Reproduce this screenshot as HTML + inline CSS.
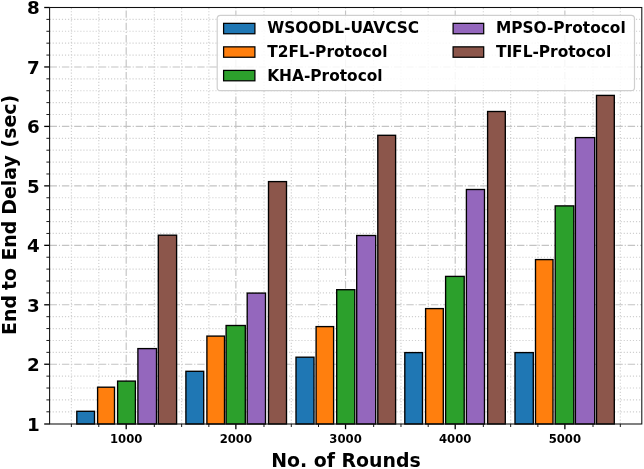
<!DOCTYPE html>
<html lang="en">
<head>
<meta charset="utf-8">
<title>End to End Delay vs No. of Rounds</title>
<style>
html,body{margin:0;padding:0;background:#fff;}
body{width:644px;height:469px;overflow:hidden;}
svg{display:block;will-change:transform;}
text{font-family:"DejaVu Sans","Liberation Sans",sans-serif;font-weight:bold;fill:#000;}
</style>
</head>
<body>
<svg width="644" height="469" viewBox="0 0 644 469">
<rect x="0" y="0" width="644" height="469" fill="#ffffff"/>
<g id="grid-minor" fill="none" stroke="#d0d0d0" stroke-width="1.16" stroke-dasharray="1.16 1.91">
<path d="M71.37 423.70V7.50"/>
<path d="M98.78 423.70V7.50"/>
<path d="M154.32 423.70V7.50"/>
<path d="M181.63 423.70V7.50"/>
<path d="M208.85 423.70V7.50"/>
<path d="M263.99 423.70V7.50"/>
<path d="M291.31 423.70V7.50"/>
<path d="M318.52 423.70V7.50"/>
<path d="M373.66 423.70V7.50"/>
<path d="M400.98 423.70V7.50"/>
<path d="M428.19 423.70V7.50"/>
<path d="M483.33 423.70V7.50"/>
<path d="M510.65 423.70V7.50"/>
<path d="M537.86 423.70V7.50"/>
<path d="M593.00 423.70V7.50"/>
<path d="M620.32 423.70V7.50"/>
<path d="M49.60 411.81H641.80"/>
<path d="M49.60 399.92H641.80"/>
<path d="M49.60 388.03H641.80"/>
<path d="M49.60 376.13H641.80"/>
<path d="M49.60 352.35H641.80"/>
<path d="M49.60 340.46H641.80"/>
<path d="M49.60 328.57H641.80"/>
<path d="M49.60 316.68H641.80"/>
<path d="M49.60 292.89H641.80"/>
<path d="M49.60 281.00H641.80"/>
<path d="M49.60 269.11H641.80"/>
<path d="M49.60 257.22H641.80"/>
<path d="M49.60 233.44H641.80"/>
<path d="M49.60 221.55H641.80"/>
<path d="M49.60 209.65H641.80"/>
<path d="M49.60 197.76H641.80"/>
<path d="M49.60 173.98H641.80"/>
<path d="M49.60 162.09H641.80"/>
<path d="M49.60 150.20H641.80"/>
<path d="M49.60 138.31H641.80"/>
<path d="M49.60 114.52H641.80"/>
<path d="M49.60 102.63H641.80"/>
<path d="M49.60 90.74H641.80"/>
<path d="M49.60 78.85H641.80"/>
<path d="M49.60 55.07H641.80"/>
<path d="M49.60 43.17H641.80"/>
<path d="M49.60 31.28H641.80"/>
<path d="M49.60 19.39H641.80"/>
</g>
<g id="grid-major" fill="none" stroke="#c4c4c4" stroke-width="1.16" stroke-dasharray="7.42 1.86 1.16 1.86">
<path d="M126.20 423.70V7.50"/>
<path d="M235.87 423.70V7.50"/>
<path d="M345.54 423.70V7.50"/>
<path d="M455.21 423.70V7.50"/>
<path d="M564.88 423.70V7.50"/>
<path d="M49.60 364.24H641.80"/>
<path d="M49.60 304.79H641.80"/>
<path d="M49.60 245.33H641.80"/>
<path d="M49.60 185.87H641.80"/>
<path d="M49.60 126.41H641.80"/>
<path d="M49.60 66.96H641.80"/>
</g>
<g id="bars" stroke="#000" stroke-width="1.35" stroke-linejoin="miter">
<rect x="76.80" y="411.30" width="17.70" height="12.70" fill="#1f77b4"/>
<rect x="97.60" y="387.20" width="16.90" height="36.80" fill="#ff7f0e"/>
<rect x="117.60" y="381.10" width="17.80" height="42.90" fill="#2ca02c"/>
<rect x="137.90" y="348.60" width="18.60" height="75.40" fill="#9467bd"/>
<rect x="158.30" y="235.20" width="18.30" height="188.80" fill="#8c564b"/>
<rect x="185.90" y="371.30" width="17.80" height="52.70" fill="#1f77b4"/>
<rect x="206.90" y="336.10" width="17.60" height="87.90" fill="#ff7f0e"/>
<rect x="226.10" y="325.50" width="19.20" height="98.50" fill="#2ca02c"/>
<rect x="247.20" y="293.10" width="18.30" height="130.90" fill="#9467bd"/>
<rect x="268.50" y="181.60" width="18.00" height="242.40" fill="#8c564b"/>
<rect x="296.00" y="357.20" width="18.00" height="66.80" fill="#1f77b4"/>
<rect x="316.10" y="326.60" width="17.50" height="97.40" fill="#ff7f0e"/>
<rect x="336.70" y="289.70" width="18.10" height="134.30" fill="#2ca02c"/>
<rect x="356.70" y="235.50" width="19.00" height="188.50" fill="#9467bd"/>
<rect x="377.80" y="135.30" width="17.80" height="288.70" fill="#8c564b"/>
<rect x="404.80" y="352.60" width="17.70" height="71.40" fill="#1f77b4"/>
<rect x="425.60" y="308.60" width="17.70" height="115.40" fill="#ff7f0e"/>
<rect x="445.60" y="276.40" width="18.60" height="147.60" fill="#2ca02c"/>
<rect x="466.40" y="189.50" width="18.10" height="234.50" fill="#9467bd"/>
<rect x="487.60" y="111.50" width="17.70" height="312.50" fill="#8c564b"/>
<rect x="515.00" y="352.60" width="18.30" height="71.40" fill="#1f77b4"/>
<rect x="535.50" y="259.60" width="17.50" height="164.40" fill="#ff7f0e"/>
<rect x="555.20" y="205.90" width="18.60" height="218.10" fill="#2ca02c"/>
<rect x="575.40" y="137.60" width="19.30" height="286.40" fill="#9467bd"/>
<rect x="596.50" y="95.40" width="17.80" height="328.60" fill="#8c564b"/>
</g>
<g id="ticks" fill="none" stroke="#000">
<path d="M126.20 424.00v5.2" stroke-width="1.3"/>
<path d="M235.87 424.00v5.2" stroke-width="1.3"/>
<path d="M345.54 424.00v5.2" stroke-width="1.3"/>
<path d="M455.21 424.00v5.2" stroke-width="1.3"/>
<path d="M564.88 424.00v5.2" stroke-width="1.3"/>
<path d="M71.37 424.00v3" stroke-width="0.9"/>
<path d="M98.78 424.00v3" stroke-width="0.9"/>
<path d="M154.32 424.00v3" stroke-width="0.9"/>
<path d="M181.63 424.00v3" stroke-width="0.9"/>
<path d="M208.85 424.00v3" stroke-width="0.9"/>
<path d="M263.99 424.00v3" stroke-width="0.9"/>
<path d="M291.31 424.00v3" stroke-width="0.9"/>
<path d="M318.52 424.00v3" stroke-width="0.9"/>
<path d="M373.66 424.00v3" stroke-width="0.9"/>
<path d="M400.98 424.00v3" stroke-width="0.9"/>
<path d="M428.19 424.00v3" stroke-width="0.9"/>
<path d="M483.33 424.00v3" stroke-width="0.9"/>
<path d="M510.65 424.00v3" stroke-width="0.9"/>
<path d="M537.86 424.00v3" stroke-width="0.9"/>
<path d="M593.00 424.00v3" stroke-width="0.9"/>
<path d="M620.32 424.00v3" stroke-width="0.9"/>
<path d="M49.60 424.00h-5.4" stroke-width="1.3"/>
<path d="M49.60 364.24h-5.4" stroke-width="1.3"/>
<path d="M49.60 304.79h-5.4" stroke-width="1.3"/>
<path d="M49.60 245.33h-5.4" stroke-width="1.3"/>
<path d="M49.60 185.87h-5.4" stroke-width="1.3"/>
<path d="M49.60 126.41h-5.4" stroke-width="1.3"/>
<path d="M49.60 66.96h-5.4" stroke-width="1.3"/>
<path d="M49.60 7.50h-5.4" stroke-width="1.3"/>
<path d="M49.60 411.81h-3.2" stroke-width="0.9"/>
<path d="M49.60 399.92h-3.2" stroke-width="0.9"/>
<path d="M49.60 388.03h-3.2" stroke-width="0.9"/>
<path d="M49.60 376.13h-3.2" stroke-width="0.9"/>
<path d="M49.60 352.35h-3.2" stroke-width="0.9"/>
<path d="M49.60 340.46h-3.2" stroke-width="0.9"/>
<path d="M49.60 328.57h-3.2" stroke-width="0.9"/>
<path d="M49.60 316.68h-3.2" stroke-width="0.9"/>
<path d="M49.60 292.89h-3.2" stroke-width="0.9"/>
<path d="M49.60 281.00h-3.2" stroke-width="0.9"/>
<path d="M49.60 269.11h-3.2" stroke-width="0.9"/>
<path d="M49.60 257.22h-3.2" stroke-width="0.9"/>
<path d="M49.60 233.44h-3.2" stroke-width="0.9"/>
<path d="M49.60 221.55h-3.2" stroke-width="0.9"/>
<path d="M49.60 209.65h-3.2" stroke-width="0.9"/>
<path d="M49.60 197.76h-3.2" stroke-width="0.9"/>
<path d="M49.60 173.98h-3.2" stroke-width="0.9"/>
<path d="M49.60 162.09h-3.2" stroke-width="0.9"/>
<path d="M49.60 150.20h-3.2" stroke-width="0.9"/>
<path d="M49.60 138.31h-3.2" stroke-width="0.9"/>
<path d="M49.60 114.52h-3.2" stroke-width="0.9"/>
<path d="M49.60 102.63h-3.2" stroke-width="0.9"/>
<path d="M49.60 90.74h-3.2" stroke-width="0.9"/>
<path d="M49.60 78.85h-3.2" stroke-width="0.9"/>
<path d="M49.60 55.07h-3.2" stroke-width="0.9"/>
<path d="M49.60 43.17h-3.2" stroke-width="0.9"/>
<path d="M49.60 31.28h-3.2" stroke-width="0.9"/>
<path d="M49.60 19.39h-3.2" stroke-width="0.9"/>
</g>
<rect id="frame" x="49.60" y="7.50" width="592.20" height="416.50" fill="none" stroke="#101010" stroke-width="1.06"/>
<g id="ylabels" font-size="18.3" text-anchor="end">
<text x="39.7" y="430.80">1</text>
<text x="39.7" y="371.14">2</text>
<text x="39.7" y="311.69">3</text>
<text x="39.7" y="252.23">4</text>
<text x="39.7" y="192.77">5</text>
<text x="39.7" y="133.31">6</text>
<text x="39.7" y="73.86">7</text>
<text x="39.7" y="14.40">8</text>
</g>
<g id="xlabels" font-size="11.65" text-anchor="middle">
<text x="126.20" y="443.3">1000</text>
<text x="235.87" y="443.3">2000</text>
<text x="345.54" y="443.3">3000</text>
<text x="455.21" y="443.3">4000</text>
<text x="564.88" y="443.3">5000</text>
</g>
<text id="xlabel" x="345.95" y="467.4" font-size="18.9" text-anchor="middle">No. of Rounds</text>
<text id="ylabel" transform="translate(15.5 214.9) rotate(-90)" font-size="18.9"><tspan x="-120.02">End </tspan><tspan x="-75.19">to </tspan><tspan x="-45.69">End </tspan><tspan x="0.26">Delay </tspan><tspan x="67.48">(sec)</tspan></text>
<g id="legend">
<rect x="217.2" y="15.3" width="417.3" height="75.4" rx="3.2" ry="3.2" fill="#ffffff" fill-opacity="0.84" stroke="#cfcfcf" stroke-width="1.2"/>
<rect x="223.60" y="23.35" width="31.30" height="10.4" fill="#1f77b4" stroke="#000" stroke-width="1.25"/>
<text x="267.20" y="32.90" font-size="15.4">WSOODL-UAVCSC</text>
<rect x="223.60" y="46.85" width="31.30" height="10.4" fill="#ff7f0e" stroke="#000" stroke-width="1.25"/>
<text x="267.20" y="57.10" font-size="15.4">T2FL-Protocol</text>
<rect x="223.60" y="70.40" width="31.30" height="10.4" fill="#2ca02c" stroke="#000" stroke-width="1.25"/>
<text x="267.20" y="80.80" font-size="15.4">KHA-Protocol</text>
<rect x="453.10" y="23.35" width="30.60" height="10.4" fill="#9467bd" stroke="#000" stroke-width="1.25"/>
<text x="495.90" y="32.90" font-size="15.4">MPSO-Protocol</text>
<rect x="453.10" y="46.85" width="30.60" height="10.4" fill="#8c564b" stroke="#000" stroke-width="1.25"/>
<text x="495.90" y="57.10" font-size="15.4">TIFL-Protocol</text>
</g>
</svg>
</body>
</html>
